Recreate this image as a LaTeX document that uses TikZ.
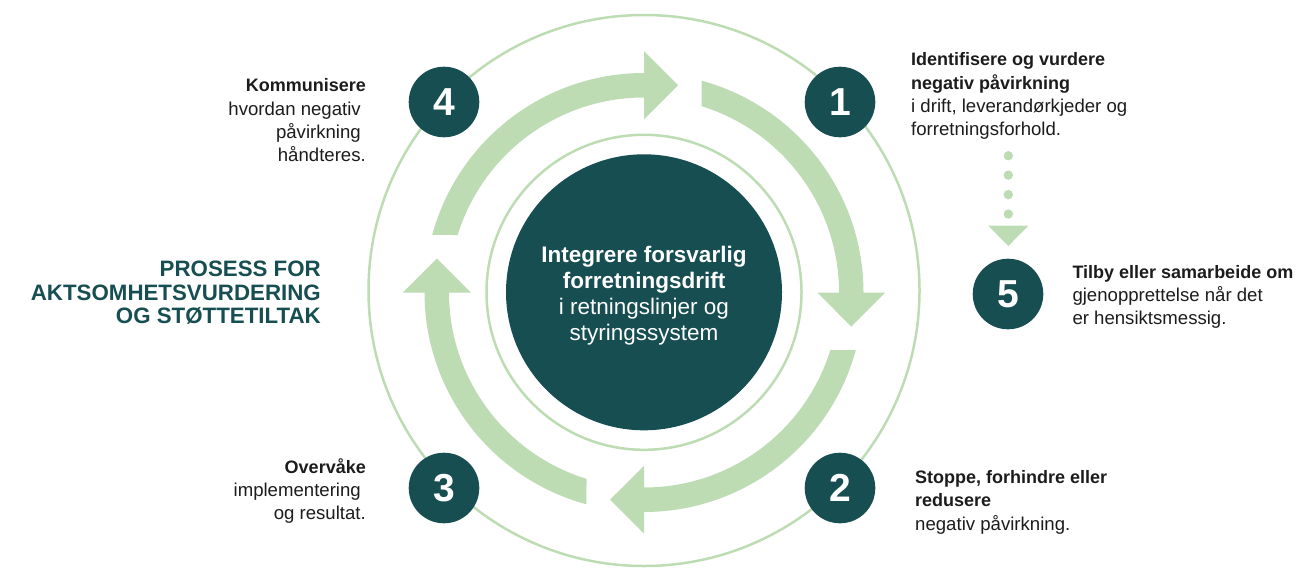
\documentclass[tikz,border=0pt]{standalone}
\usepackage{fontspec}
\setmainfont{Liberation Sans}
\usetikzlibrary{calc}
\definecolor{darkteal}{HTML}{174E52}
\definecolor{leafgreen}{HTML}{BDDCB4}
\definecolor{labeltext}{HTML}{1C1C1C}
\newcommand\lbold[1]{{\fontsize{18}{23.3}\selectfont\bfseries #1}}
\newcommand\cyclearrow[1]{%
  \fill[leafgreen] ({#1-74.8}:219.5) arc[start angle={#1-74.8}, end angle={#1}, radius=219.5]
    -- ({#1}:241.25) -- ({#1+9.32}:210.02) -- ({#1}:173.25) -- ({#1}:195)
    arc[start angle={#1}, end angle={#1-72.85}, radius=195] -- cycle;}
\begin{document}
\begin{tikzpicture}[x=1pt,y=-1pt,
  ringline/.style={draw=leafgreen, line width=2.5pt},
  numcircle/.style={circle, fill=darkteal, minimum size=70.6pt, inner sep=0pt, text=white,
    font=\fontsize{39}{39}\selectfont\bfseries},
  sidelabel/.style={inner sep=0pt, text=labeltext, font=\fontsize{18.6}{23.3}\selectfont},
  titlelabel/.style={inner sep=0pt, text=darkteal, font=\fontsize{22.3}{23.3}\selectfont\bfseries},
  coredisc/.style={circle, fill=darkteal, minimum size=276pt, inner sep=0pt},
  coretext/.style={inner sep=0pt, text=white, font=\fontsize{22.5}{26.2}\selectfont},
  dotline/.style={draw=leafgreen, line width=9.4pt, line cap=round, dash pattern=on 0pt off 19.43pt}]
\useasboundingbox (0,0) rectangle (1297,567);
% rings
\draw[ringline] (644,290.5) circle[radius=275.5];
\draw[ringline] (644,292.3) circle[radius=157.5];
% cycle arrows
\begin{scope}[shift={(644,292.5)}]
  \cyclearrow{0}
  \cyclearrow{90}
  \cyclearrow{180}
  \cyclearrow{270}
\end{scope}
% core
\node[coredisc] (core) at (644,292.3) {};
\node[coretext, anchor=base] (coretxt) at (644,262) {\begin{tabular}[t]{@{}c@{}}\bfseries Integrere forsvarlig\\ \bfseries forretningsdrift\\ i retningslinjer og\\ styringssystem\end{tabular}};
% numbered circles
\node[numcircle] (n1) at (840,102) {1};
\node[numcircle] (n2) at (840,488) {2};
\node[numcircle] (n3) at (444,488) {3};
\node[numcircle] (n4) at (444,102) {4};
\node[numcircle] (n5) at (1008,294) {5};
% labels
\node[sidelabel, anchor=base west] (l1) at (911,66) {\begin{tabular}[t]{@{}l@{}}\lbold{Identifisere og vurdere}\\ \lbold{negativ påvirkning}\\ i drift, leverandørkjeder og\\ forretningsforhold.\end{tabular}};
\node[sidelabel, anchor=base west] (l2) at (915,483.5) {\begin{tabular}[t]{@{}l@{}}\lbold{Stoppe, forhindre eller}\\ \lbold{redusere}\\ negativ påvirkning.\end{tabular}};
\node[sidelabel, anchor=base east] (l3) at (366,473.3) {\begin{tabular}[t]{@{}r@{}}\lbold{Overvåke}\\ implementering\kern5pt\\ og resultat.\end{tabular}};
\node[sidelabel, anchor=base east] (l4) at (366,91.7) {\begin{tabular}[t]{@{}r@{}}\lbold{Kommunisere}\\ hvordan negativ\kern5pt\\ påvirkning\kern5pt\\ håndteres.\end{tabular}};
\node[sidelabel, anchor=base west] (l5) at (1072.3,278.3) {\begin{tabular}[t]{@{}l@{}}\lbold{Tilby eller samarbeide om}\\ gjenopprettelse når det\\ er hensiktsmessig.\end{tabular}};
% title
\node[titlelabel, anchor=base east] (title) at (321,276.7) {\begin{tabular}[t]{@{}r@{}}PROSESS FOR\\ AKTSOMHETSVURDERING\\ OG STØTTETILTAK\end{tabular}};
% dotted connector 1 -> 5
\coordinate (dstart) at (1008.3,155.7);
\coordinate (dend) at (1008.3,216);
\draw[dotline] (dstart) -- (dend);
\fill[leafgreen] (988.3,225.7) -- (1028.3,225.7) -- (1008.3,246) -- cycle;
\end{tikzpicture}
\end{document}
